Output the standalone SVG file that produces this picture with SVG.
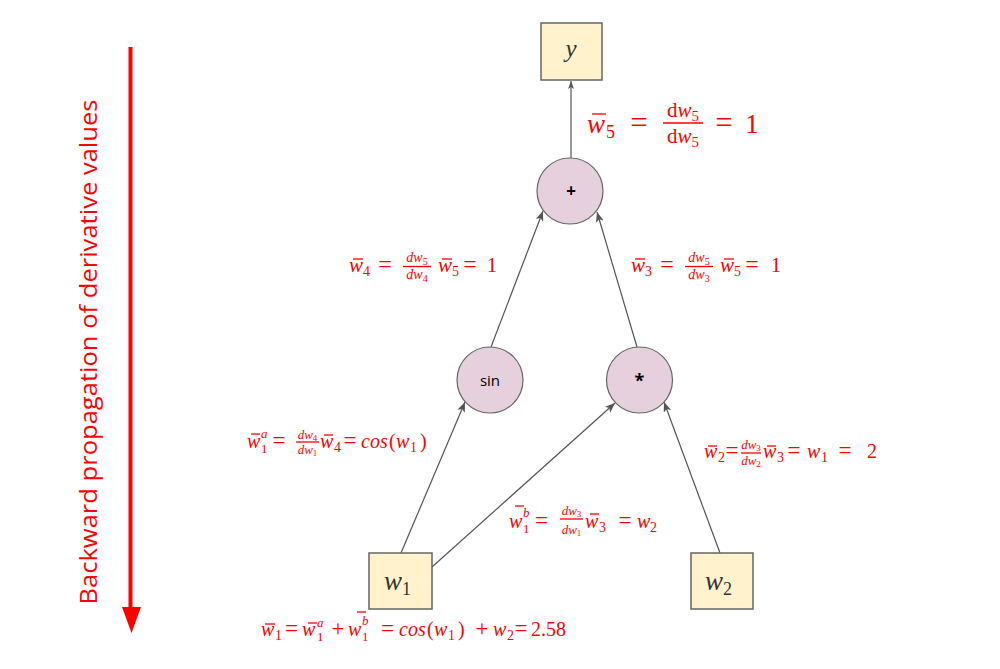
<svg xmlns="http://www.w3.org/2000/svg" width="1000" height="669" viewBox="0 0 1000 669">
<style>
.box{fill:#fff2cc;stroke:#666;stroke-width:1.5}
.op{fill:#e6d0de;stroke:#666;stroke-width:1.2}
.lab{font-family:"Liberation Serif",serif;font-style:italic;fill:#333}
.opl{font-family:"Open Sans","DejaVu Sans",sans-serif;fill:#000;text-anchor:middle}
.edge{stroke:#555;stroke-width:1.2;fill:none}
.m{font-family:"Liberation Serif",serif;fill:#ff0000}
.i{font-style:italic}
.c{text-anchor:middle}
.bar{stroke:#ff0000;stroke-width:1.3}
.eq{font-family:"Liberation Serif",serif;fill:#ff0000;text-anchor:middle;font-size:24px}
</style>
<defs>
<marker id="arr" markerUnits="userSpaceOnUse" markerWidth="12" markerHeight="10" refX="10" refY="4" orient="auto">
<path d="M0,0 L10,4 L0,8 L2.5,4 z" fill="#555"/>
</marker>
<marker id="arrs" markerUnits="userSpaceOnUse" markerWidth="10" markerHeight="8" refX="8" refY="3" orient="auto">
<path d="M0,0 L8,3 L0,6 L2,3 z" fill="#555"/>
</marker>
</defs>
<rect width="1000" height="669" fill="#fff"/>

<g id="axis">
<line x1="130.5" y1="47" x2="130.5" y2="610" stroke="#ff0000" stroke-width="4"/>
<polygon points="122,607 141,607 131.5,633" fill="#ff0000"/>
<text transform="translate(97,352) rotate(-90)" x="0" y="0" text-anchor="middle" font-family="Open Sans, sans-serif" font-size="23.5" fill="#ff0000" textLength="505" lengthAdjust="spacingAndGlyphs">Backward propagation of derivative values</text>
</g>

<g id="connectors">
<line class="edge" x1="571" y1="158" x2="571" y2="81" marker-end="url(#arrs)"/>
<line class="edge" x1="491" y1="347" x2="543" y2="211" marker-end="url(#arr)"/>
<line class="edge" x1="637" y1="347" x2="597" y2="212" marker-end="url(#arr)"/>
<line class="edge" x1="401" y1="553" x2="465" y2="402" marker-end="url(#arr)"/>
<line class="edge" x1="432" y1="567" x2="615" y2="403" marker-end="url(#arr)"/>
<line class="edge" x1="720" y1="553" x2="664" y2="402" marker-end="url(#arr)"/>
</g>

<g id="node-y">
<rect class="box" x="541" y="23" width="61" height="57"/>
<text class="lab" x="571" y="57" font-size="25" text-anchor="middle">y</text>
</g>
<g id="node-plus">
<circle class="op" cx="570" cy="191" r="33"/>
<text class="opl" x="571" y="197" font-size="17" font-weight="bold">+</text>
</g>
<g id="node-sin">
<circle class="op" cx="490" cy="380" r="33"/>
<text class="opl" x="490" y="386" font-size="15">sin</text>
</g>
<g id="node-mul">
<circle class="op" cx="639.5" cy="380" r="33"/>
<text class="opl" x="639.5" y="387" font-size="18" font-weight="bold">*</text>
</g>
<g id="node-w1">
<rect class="box" x="369" y="553" width="63" height="56"/>
<text class="lab" x="384" y="590" font-size="27">w<tspan font-size="18" font-style="normal" dy="5">1</tspan></text>
</g>
<g id="node-w2">
<rect class="box" x="691" y="553" width="62" height="56"/>
<text class="lab" x="705" y="590" font-size="27">w<tspan font-size="18" font-style="normal" dy="5">2</tspan></text>
</g>

<g id="formula-w5">
<text class="m i" x="587" y="133" font-size="27">w</text>
<line class="bar" x1="592" y1="114" x2="606" y2="114" stroke-width="1.6"/>
<text class="m" x="606" y="138" font-size="18">5</text>
<text class="eq" x="639" y="133" style="font-size:31px">=</text>
<text class="m c" x="683" y="117" font-size="21">d<tspan class="i">w</tspan><tspan font-size="15" dy="4">5</tspan></text>
<line class="bar" x1="663" y1="123" x2="703" y2="123" stroke-width="1.6"/>
<text class="m c" x="683" y="143" font-size="21">d<tspan class="i">w</tspan><tspan font-size="15" dy="4">5</tspan></text>
<text class="eq" x="724" y="133" style="font-size:31px">=</text>
<text class="m c" x="752" y="133" font-size="27">1</text>
</g>

<g id="formula-w4">
<text class="m i" x="349" y="272" font-size="21">w</text>
<line class="bar" x1="353" y1="259" x2="363" y2="259"/>
<text class="m" x="363" y="276" font-size="14">4</text>
<text class="eq" x="385" y="272">=</text>
<text class="m c" x="417" y="262" font-size="14"><tspan class="i">dw</tspan><tspan font-size="10" dy="3">5</tspan></text>
<line class="bar" x1="403" y1="266.5" x2="431" y2="266.5"/>
<text class="m c" x="417" y="279" font-size="14"><tspan class="i">dw</tspan><tspan font-size="10" dy="3">4</tspan></text>
<text class="m i" x="438" y="272" font-size="21">w</text>
<line class="bar" x1="442" y1="259" x2="452" y2="259"/>
<text class="m" x="452" y="276" font-size="14">5</text>
<text class="eq" x="470" y="272">=</text>
<text class="m c" x="492" y="272" font-size="21">1</text>
</g>

<g id="formula-w3">
<text class="m i" x="631" y="272" font-size="21">w</text>
<line class="bar" x1="635" y1="259" x2="645" y2="259"/>
<text class="m" x="645" y="276" font-size="14">3</text>
<text class="eq" x="667" y="272">=</text>
<text class="m c" x="699" y="262" font-size="14"><tspan class="i">dw</tspan><tspan font-size="10" dy="3">5</tspan></text>
<line class="bar" x1="685" y1="266.5" x2="713" y2="266.5"/>
<text class="m c" x="699" y="279" font-size="14"><tspan class="i">dw</tspan><tspan font-size="10" dy="3">3</tspan></text>
<text class="m i" x="720" y="272" font-size="21">w</text>
<line class="bar" x1="724" y1="259" x2="734" y2="259"/>
<text class="m" x="734" y="276" font-size="14">5</text>
<text class="eq" x="752" y="272">=</text>
<text class="m c" x="776" y="272" font-size="21">1</text>
</g>

<g id="formula-w1a">
<text class="m i" x="247" y="448" font-size="20">w</text>
<line class="bar" x1="251" y1="434" x2="260" y2="434"/>
<text class="m i" x="261" y="438" font-size="13">a</text>
<text class="m" x="261" y="453" font-size="13">1</text>
<text class="eq" x="279" y="448" style="font-size:23px">=</text>
<text class="m c" x="307.5" y="439" font-size="13"><tspan class="i">dw</tspan><tspan font-size="9" dy="2">4</tspan></text>
<line class="bar" x1="296" y1="442" x2="319" y2="442"/>
<text class="m c" x="307.5" y="454" font-size="13"><tspan class="i">dw</tspan><tspan font-size="9" dy="2">1</tspan></text>
<text class="m i" x="320" y="448" font-size="20">w</text>
<line class="bar" x1="324" y1="435" x2="333" y2="435"/>
<text class="m" x="334" y="452" font-size="14">4</text>
<text class="eq" x="350" y="448" style="font-size:23px">=</text>
<text class="m i" x="361" y="448" font-size="20">cos</text>
<text class="m" x="389" y="448" font-size="20">(</text>
<text class="m i" x="396" y="448" font-size="20">w</text>
<text class="m" x="410" y="452" font-size="14">1</text>
<text class="m" x="420" y="448" font-size="20">)</text>
</g>

<g id="formula-w1b">
<text class="m i" x="509" y="528" font-size="20">w</text>
<line class="bar" x1="515" y1="506" x2="524" y2="506"/>
<text class="m i" x="523" y="517" font-size="13">b</text>
<text class="m" x="523" y="533" font-size="13">1</text>
<text class="eq" x="541.5" y="528" style="font-size:23px">=</text>
<text class="m c" x="571.5" y="515" font-size="13"><tspan class="i">dw</tspan><tspan font-size="9" dy="2">3</tspan></text>
<line class="bar" x1="560" y1="519" x2="583" y2="519"/>
<text class="m c" x="571.5" y="534" font-size="13"><tspan class="i">dw</tspan><tspan font-size="9" dy="2">1</tspan></text>
<text class="m i" x="585" y="528" font-size="20">w</text>
<line class="bar" x1="590" y1="514" x2="599" y2="514"/>
<text class="m" x="599" y="532" font-size="14">3</text>
<text class="eq" x="625" y="528" style="font-size:23px">=</text>
<text class="m i" x="637" y="528" font-size="20">w</text>
<text class="m" x="650" y="532" font-size="14">2</text>
</g>

<g id="formula-w2">
<text class="m i" x="704" y="458" font-size="20">w</text>
<line class="bar" x1="708" y1="446" x2="717" y2="446"/>
<text class="m" x="718" y="462" font-size="14">2</text>
<text class="eq" x="732" y="458" style="font-size:23px">=</text>
<text class="m c" x="751" y="449" font-size="13"><tspan class="i">dw</tspan><tspan font-size="9" dy="2">3</tspan></text>
<line class="bar" x1="741" y1="453" x2="761" y2="453"/>
<text class="m c" x="751" y="465" font-size="13"><tspan class="i">dw</tspan><tspan font-size="9" dy="2">2</tspan></text>
<text class="m i" x="763" y="458" font-size="20">w</text>
<line class="bar" x1="767" y1="446" x2="776" y2="446"/>
<text class="m" x="777" y="462" font-size="14">3</text>
<text class="eq" x="794" y="458" style="font-size:23px">=</text>
<text class="m i" x="807" y="458" font-size="20">w</text>
<text class="m" x="821" y="462" font-size="14">1</text>
<text class="eq" x="845" y="458" style="font-size:23px">=</text>
<text class="m c" x="872" y="458" font-size="20">2</text>
</g>

<g id="formula-w1">
<text class="m i" x="261" y="636" font-size="20">w</text>
<line class="bar" x1="265" y1="624" x2="275" y2="624"/>
<text class="m" x="275" y="640" font-size="14">1</text>
<text class="eq" x="291.5" y="636" style="font-size:23px">=</text>
<text class="m i" x="302" y="636" font-size="20">w</text>
<line class="bar" x1="308" y1="623" x2="317" y2="623"/>
<text class="m i" x="317" y="627" font-size="13">a</text>
<text class="m" x="317" y="641" font-size="13">1</text>
<text class="eq" x="338" y="636" style="font-size:23px">+</text>
<text class="m i" x="348" y="636" font-size="20">w</text>
<line class="bar" x1="357" y1="612" x2="366" y2="612"/>
<text class="m i" x="362" y="625" font-size="13">b</text>
<text class="m" x="362" y="641" font-size="13">1</text>
<text class="eq" x="387.5" y="636" style="font-size:23px">=</text>
<text class="m i" x="399" y="636" font-size="20">cos</text>
<text class="m" x="427" y="636" font-size="20">(</text>
<text class="m i" x="434" y="636" font-size="20">w</text>
<text class="m" x="448" y="640" font-size="14">1</text>
<text class="m" x="458" y="636" font-size="20">)</text>
<text class="eq" x="482" y="636" style="font-size:23px">+</text>
<text class="m i" x="493" y="636" font-size="20">w</text>
<text class="m" x="507" y="640" font-size="14">2</text>
<text class="eq" x="521" y="636" style="font-size:23px">=</text>
<text class="m" x="531" y="636" font-size="20">2.58</text>
</g>
</svg>
